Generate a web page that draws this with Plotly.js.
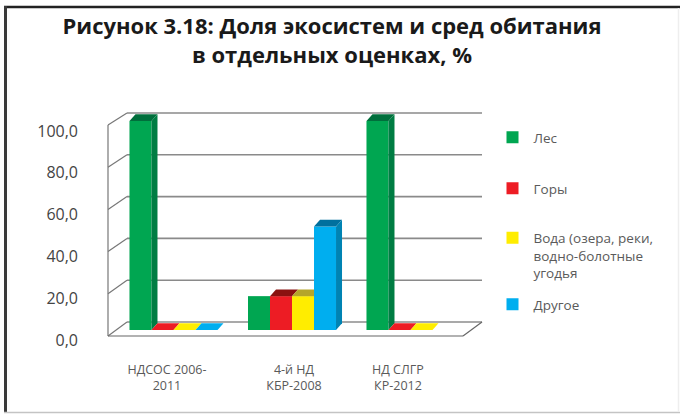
<!DOCTYPE html>
<html>
<head>
<meta charset="utf-8">
<script src="https://cdn.plot.ly/plotly-3.0.1.min.js"></script>
<style>html,body{margin:0;padding:0;background:#fff}#c{width:680px;height:414px}</style>
</head>
<body>
<div id="c"></div>
<script>
// ---- data ----
const groupTicks = [-0.055, 1.017, 1.894];
const categories = ['НДСОС 2006-<br>2011', '4-й НД<br>КБР-2008', 'НД СЛГР<br>КР-2012'];
const seriesNames = ['Лес', 'Горы', 'Вода (озера, реки,<br>водно-болотные<br>угодья', 'Другое'];
const forest = [100, 16.2, 100];
const mountains = [0, 16.2, 0];
const water = [0, 16.2, 0];
const other = [0, 49.5, null];
const yTicks = [0, 20, 40, 60, 80, 100];
const yLabels = ['0,0', '20,0', '40,0', '60,0', '80,0', '100,0'];
const front = ['#00A651', '#ED1C24', '#FFED00', '#00AEEF'];
const side = ['#007D43', '#A01218', '#B8A800', '#0083B3'];
const top3d = ['#006F3C', '#8A1210', '#B5A62A', '#00709E'];

// ---- layout constants ----
const W = 680, H = 414;
const plot = {l: 79, r: 500, t: 100, b: 360};
const pxPerGroup = 118.5, group1Px = 292;
const pxPerUnit = 2.09, zeroPx = 330;
const barW = (1 - 0.257) / 4;
const dx = 6 / pxPerGroup, dy = 6.7 / pxPerUnit;
const floorFront = 6 / pxPerUnit, floorBack = 8 / pxPerUnit;
const frontScale = 211 / 209;
const labelDrop = 10 / pxPerUnit;
const xOf = px => (px - group1Px) / pxPerGroup + 1;
const yOf = px => (zeroPx - px) / pxPerUnit;
const wallLeft = xOf(108), wallBack = xOf(127), wallRight = xOf(482), floorRight = xOf(463);

const all = [forest, mountains, water, other];
const traces = [];
all.forEach((vals, s) => {
  traces.push({
    type: 'bar', x: [0, 1, 2], y: vals, name: seriesNames[s], marker: {color: front[s], line: {width: 0}},
    hoverinfo: 'y', legend: s === 0 ? 'legend' : 'legend' + (s + 1)
  });
});
function face(xs, ys, color) {
  traces.push({type: 'scatter', mode: 'lines', x: xs, y: ys, fill: 'toself', fillcolor: color,
    line: {width: 0, color: color}, showlegend: false, hoverinfo: 'skip'});
}
all.forEach((vals, s) => {
  vals.forEach((v, g) => {
    if (v === null) return;
    const xl = g + (s - 2) * barW, xr = xl + barW;
    const next = s < 3 ? all[s + 1][g] : null;
    const nextV = next === null ? -1 : next;
    const blocked = nextV > v;
    // the first bar of a level run shows no lid in the source drawing
    const lidHidden = s === 0 && nextV === v && v > 0;
    if (!lidHidden) {
      const c = v === 0 ? front[s] : top3d[s];
      if (blocked) face([xl, xr, xr, xl + dx, xl], [v, v, v + dy, v + dy, v], c);
      else face([xl, xr, xr + dx, xl + dx, xl], [v, v, v + dy, v + dy, v], c);
    }
    if (v > 0 && nextV < v) face([xr, xr + dx, xr + dx, xr, xr], [0, dy, v + dy, v, 0], side[s]);
  });
});

const px2 = x => (x - plot.l) / (plot.r - plot.l);
const py2 = y => (plot.b - y) / (plot.b - plot.t);
const shapes = [];
function ln(x0, y0, x1, y1, color, w) {
  shapes.push({type: 'line', xref: 'x', yref: 'y', x0, y0, x1, y1, layer: 'below', line: {color, width: w}});
}
function frameLine(x0, y0, x1, y1, color, w) {
  shapes.push({type: 'line', xref: 'paper', yref: 'paper', x0: px2(x0), y0: py2(y0), x1: px2(x1), y1: py2(y1),
    layer: 'below', line: {color, width: w}});
}
yTicks.forEach(t => {
  ln(wallBack, t + floorBack, wallRight, t + floorBack, t === 0 ? '#555555' : '#8a8a8a', t === 0 ? 1.2 : 1.6);
  ln(wallLeft, t * frontScale - floorFront, wallBack, t + floorBack, '#777777', 1.2);
});
ln(wallLeft, -floorFront, wallLeft, 100 * frontScale - floorFront, '#777777', 1.2);
ln(wallLeft, -floorFront, floorRight, -floorFront, '#666666', 1.2);
ln(floorRight, -floorFront, wallRight, floorBack, '#666666', 1.2);
// picture frame
frameLine(4, 7, 680, 7, '#222222', 2.4);
frameLine(5.5, 6, 5.5, 412, '#3a3a3a', 3);
frameLine(4, 412.5, 680, 412.5, '#c4c4c4', 1.6);
frameLine(678.5, 8, 678.5, 412, '#eeeeee', 1.5);

function legendAt(px, py) {
  return {x: px2(px), y: py2(py), xanchor: 'left', yanchor: 'top', valign: 'top', bgcolor: 'rgba(0,0,0,0)',
    borderwidth: 0, itemwidth: 32, font: {family: 'Open Sans, sans-serif', size: 13.5, color: '#5a5a5a'}};
}

const layout = {
  width: W, height: H, paper_bgcolor: '#fff', plot_bgcolor: 'rgba(0,0,0,0)',
  margin: {l: plot.l, r: W - plot.r, t: plot.t, b: H - plot.b, pad: 0},
  title: {text: 'Рисунок 3.18: Доля экосистем и сред обитания<br>в отдельных оценках, %',
    font: {family: 'Open Sans, sans-serif', size: 22, color: '#1a1a1a', weight: 700},
    x: 332 / W, xanchor: 'center', y: 0.917, yanchor: 'top', yref: 'container'},
  barmode: 'group', bargap: 0.257, bargroupgap: 0,
  xaxis: {range: [xOf(plot.l), xOf(plot.r)], tickmode: 'array', tickvals: groupTicks, ticktext: categories,
    tickangle: 0, showgrid: false, zeroline: false, showline: false, ticks: '', fixedrange: true,
    tickfont: {family: 'Open Sans, sans-serif', size: 12.5, color: '#5a5a5a'}},
  yaxis: {range: [yOf(plot.b), yOf(plot.t)], tickmode: 'array',
    tickvals: yTicks.map(t => t - labelDrop), ticktext: yLabels,
    showgrid: false, zeroline: false, showline: false, ticks: '', fixedrange: true,
    tickfont: {family: 'Open Sans, sans-serif', size: 16, color: '#444444'}},
  shapes,
  legend: legendAt(491.5, 122),
  legend2: legendAt(491.5, 173),
  legend3: legendAt(491.5, 222.5),
  legend4: legendAt(491.5, 289)
};
Plotly.newPlot('c', traces, layout, {displayModeBar: false, staticPlot: true});
</script>
</body>
</html>
